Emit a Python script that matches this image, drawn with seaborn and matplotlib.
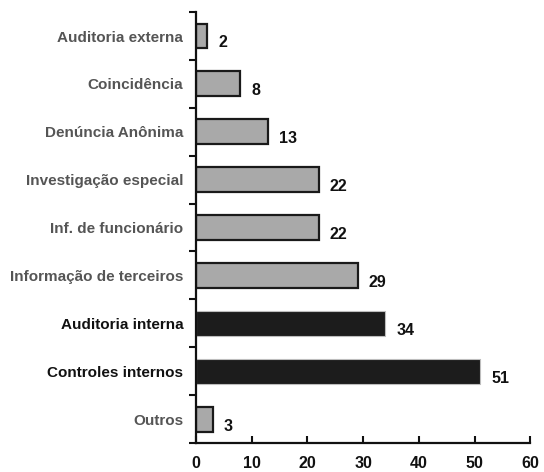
import matplotlib
matplotlib.use("Agg")
import matplotlib.pyplot as plt
import numpy as np
import pandas as pd
import seaborn as sns

categories = ["Auditoria externa", "Coincidência", "Denúncia Anônima",
              "Investigação especial", "Inf. de funcionário",
              "Informação de terceiros", "Auditoria interna",
              "Controles internos", "Outros"]
values = [2, 8, 13, 22, 22, 29, 34, 51, 3]
highlight = [False, False, False, False, False, False, True, True, False]
x_ticks = [0, 10, 20, 30, 40, 50, 60]

GRAY_FILL = "#a9a9a9"
DARK_FILL = "#1c1c1c"
GRAY_TEXT = "#555555"
INK = "#111111"

sns.set_style("white")
plt.rcParams["font.family"] = ["Liberation Sans", "DejaVu Sans"]

df = pd.DataFrame({"categoria": categories, "valor": values})
fills = [DARK_FILL if h else GRAY_FILL for h in highlight]

fig = plt.figure(figsize=(5.44, 4.72), dpi=100)
ax = fig.add_axes([0.36, 0.0614, 0.615, 0.913])

sns.barplot(data=df, x="valor", y="categoria", hue="categoria",
            palette=fills, legend=False, width=0.52, ax=ax, orient="h")

for patch, h in zip(ax.patches, highlight):
    if h:
        patch.set_edgecolor("#bdbdbd")
        patch.set_linewidth(0.8)
    else:
        patch.set_edgecolor("#1a1a1a")
        patch.set_linewidth(1.6)

# value labels beside each bar
for i, v in enumerate(values):
    ax.annotate(str(v), xy=(v, i), xytext=(8, -5), textcoords="offset points",
                ha="left", va="center", fontsize=11.5, fontweight="bold",
                color=INK)

ax.set_xlim(0, 60)
ax.set_ylim(len(categories) - 0.5, -0.5)
ax.set_xticks(x_ticks)
ax.set_xticklabels([str(t) for t in x_ticks], fontsize=11.5, fontweight="bold",
                   color=INK)
ax.set_yticks(range(len(categories)))
ax.set_yticklabels(categories, fontsize=11, fontweight="bold")
for lbl, h in zip(ax.get_yticklabels(), highlight):
    lbl.set_color(INK if h else GRAY_TEXT)
ax.set_yticks(np.arange(-0.5, len(categories), 1.0), minor=True)
ax.tick_params(axis="y", which="major", left=False, length=0, pad=9)
ax.tick_params(axis="y", which="minor", left=True, length=5, width=1.5,
               direction="out", color=INK)
ax.tick_params(axis="x", which="major", bottom=True, length=5, width=1.5,
               direction="in", pad=9, color=INK)
ax.set_xlabel("")
ax.set_ylabel("")

for side in ["top", "right"]:
    ax.spines[side].set_visible(False)
for side in ["left", "bottom"]:
    ax.spines[side].set_linewidth(1.6)
    ax.spines[side].set_color(INK)

fig.savefig("out.png", dpi=100)
